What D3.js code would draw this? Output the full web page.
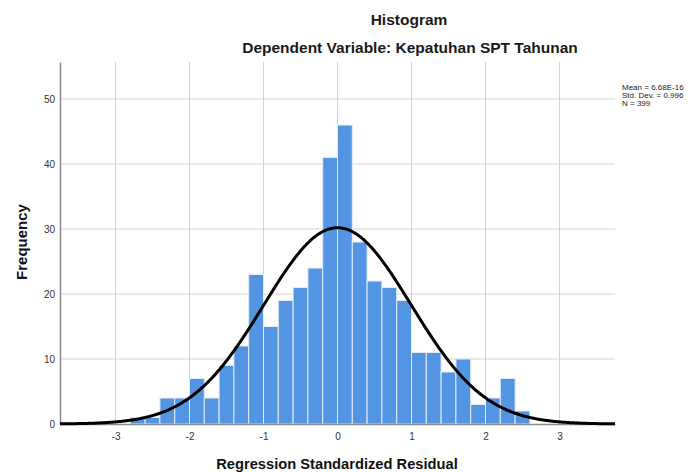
<!DOCTYPE html>
<html>
<head>
<meta charset="utf-8">
<script src="https://cdn.jsdelivr.net/npm/d3@7"></script>
<style>
  html, body { margin: 0; padding: 0; background: #fff; }
  svg { display: block; font-family: "Liberation Sans", Arial, sans-serif; }
</style>
</head>
<body>
<svg id="chart" width="695" height="472"></svg>
<script>
// ---- data ----
const binStarts = [-2.8, -2.6, -2.4, -2.2, -2.0, -1.8, -1.6, -1.4, -1.2, -1.0, -0.8, -0.6, -0.4, -0.2,
                   0.0, 0.2, 0.4, 0.6, 0.8, 1.0, 1.2, 1.4, 1.6, 1.8, 2.0, 2.2, 2.4];
const counts    = [1, 1, 4, 4, 7, 4, 9, 12, 23, 15, 19, 21, 24, 41,
                   46, 28, 22, 21, 19, 11, 11, 8, 10, 3, 4, 7, 2];
const binWidth = 0.2;
const xTicks = [-3, -2, -1, 0, 1, 2, 3];
const yTicks = [0, 10, 20, 30, 40, 50];
const stats = { mean: 6.68e-16, sd: 0.996, n: 399 };
const legendLines = ["Mean = 6.68E-16", "Std. Dev. = 0.996", "N = 399"];
const titleText = "Histogram";
const subtitleText = "Dependent Variable: Kepatuhan SPT Tahunan";
const xLabel = "Regression Standardized Residual";
const yLabel = "Frequency";

// ---- layout ----
const svg = d3.select("#chart");
const L = 60, R = 615, T = 62, B = 424;
const x = d3.scaleLinear().domain([-3.75, 3.75]).range([L, R]);
const y = d3.scaleLinear().domain([0, 55.7]).range([B, T]);

// gridlines
const g = svg.append("g");
g.selectAll("line.vg").data(xTicks).join("line")
  .attr("x1", d => x(d)).attr("x2", d => x(d))
  .attr("y1", T).attr("y2", B)
  .attr("stroke", "#d4d4d4").attr("stroke-width", 1);
g.selectAll("line.hg").data(yTicks.filter(d => d > 0)).join("line")
  .attr("x1", L).attr("x2", R)
  .attr("y1", d => y(d)).attr("y2", d => y(d))
  .attr("stroke", "#d4d4d4").attr("stroke-width", 1);

// bars
svg.append("g").selectAll("rect").data(binStarts).join("rect")
  .attr("x", d => x(d))
  .attr("width", d => x(d + binWidth) - x(d))
  .attr("y", (d, i) => y(counts[i]))
  .attr("height", (d, i) => y(0) - y(counts[i]))
  .attr("fill", "#5495e3")
  .attr("stroke", "#e3ecf8")
  .attr("stroke-width", 1);

// axes
const fmt = d => String(d);
const xAxis = d3.axisBottom(x).tickValues(xTicks).tickSize(0).tickPadding(9).tickFormat(fmt);
const yAxis = d3.axisLeft(y).tickValues(yTicks).tickSize(0).tickPadding(5).tickFormat(fmt);
const xa = svg.append("g").attr("transform", `translate(0,${B})`).call(xAxis);
const ya = svg.append("g").attr("transform", `translate(${L},0)`).call(yAxis);
[xa, ya].forEach(a => {
  a.select(".domain").attr("stroke", "#8a8a8a").attr("stroke-width", 1.5);
  a.selectAll("text").attr("fill", "#333").style("font-size", "10px")
    .style("font-family", "'Liberation Sans', Arial, sans-serif");
});

// normal curve
const total = d3.sum(counts);
const pdf = v => Math.exp(-0.5 * Math.pow((v - stats.mean) / stats.sd, 2)) / (stats.sd * Math.sqrt(2 * Math.PI));
const xs = d3.range(-3.75, 3.7501, 0.02);
svg.append("path")
  .datum(xs)
  .attr("d", d3.line().x(d => x(d)).y(d => y(total * binWidth * pdf(d))).curve(d3.curveBasis))
  .attr("fill", "none").attr("stroke", "#000").attr("stroke-width", 3);

// titles
svg.append("text").attr("x", 409).attr("y", 25).attr("text-anchor", "middle")
  .style("font-size", "15.5px").style("font-weight", "bold").attr("fill", "#1a1a1a").text(titleText);
svg.append("text").attr("x", 410).attr("y", 53).attr("text-anchor", "middle")
  .style("font-size", "15.5px").style("font-weight", "bold").attr("fill", "#1a1a1a").text(subtitleText);
svg.append("text").attr("x", 337).attr("y", 469).attr("text-anchor", "middle")
  .style("font-size", "14.7px").style("font-weight", "bold").attr("fill", "#111").text(xLabel);
svg.append("text").attr("transform", "translate(27,242) rotate(-90)").attr("text-anchor", "middle")
  .style("font-size", "15px").style("font-weight", "bold").attr("fill", "#111").text(yLabel);

// legend
svg.append("g").selectAll("text").data(legendLines).join("text")
  .attr("x", 622).attr("y", (d, i) => 90 + i * 8)
  .style("font-size", "8px").attr("fill", "#222").text(d => d);
</script>
</body>
</html>
